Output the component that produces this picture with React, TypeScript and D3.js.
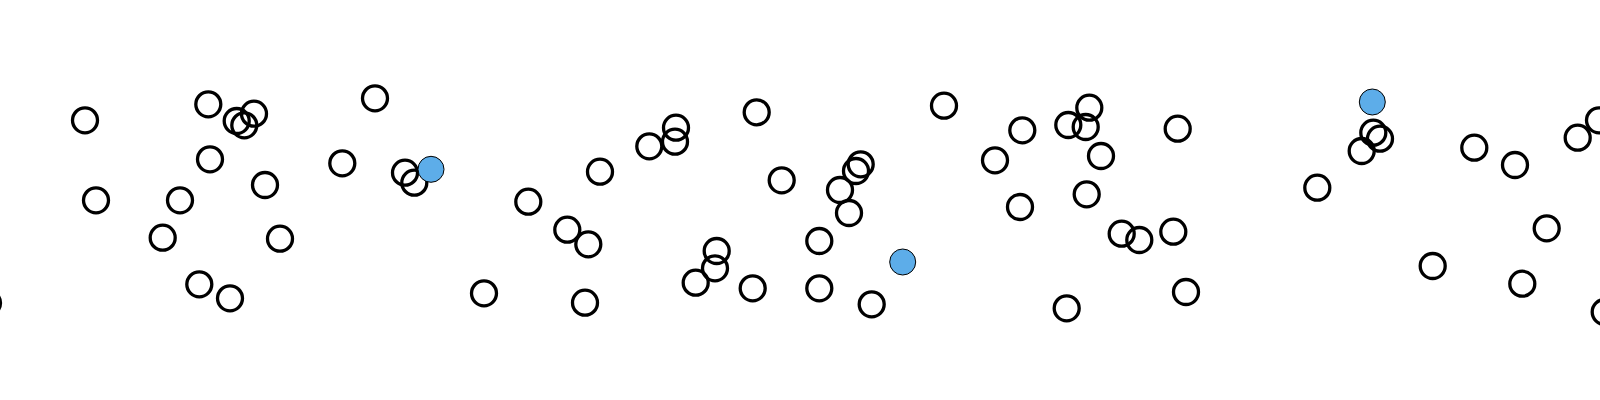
import * as d3 from "d3";

// positions, in page pixels (domain of the scales)
const xs = [
  -12, 85, 96, 208.3, 236.7, 254, 244.3, 210, 180, 265, 162.7, 280, 199.3, 230, 375, 342.3, 405, 414.3,
  528.3, 600, 567.3, 588.3, 484, 585, 649.3, 676, 675, 756.7, 781.7, 716.7, 715, 695.7, 752.7,
  944, 860.7, 856, 840, 849, 819.3, 819.3, 871.7, 1022.3, 995, 1068.3, 1089.3, 1085.7, 1177.7, 1101,
  1020, 1086.7, 1121.7, 1139.3, 1173.3, 1186, 1066.7,
  1373.3, 1380, 1361.7, 1317.3, 1474.3, 1515, 1577.7, 1599, 1546.7, 1432.7, 1522.3, 1604.7,
];
const ys = [
  302, 119.3, 199.3, 103.3, 120, 112.7, 124.3, 158.3, 199.3, 184, 236.7, 237.7, 283.3, 297.3, 97.3, 162.3, 171.7, 181.7,
  200.7, 170.7, 228.7, 243.3, 292.3, 301.7, 145.3, 126.7, 140.7, 111.3, 179.3, 250, 267.3, 281.7, 287.3,
  104.7, 163.3, 170, 189, 212, 240, 287.3, 303.3, 129.3, 159.3, 124, 106.7, 126, 127.7, 155,
  206, 193.3, 232.7, 239, 230.7, 291, 307.3,
  131.7, 137.7, 150, 186.7, 146.7, 164, 136.7, 119.3, 227.3, 265, 282.7, 311,
];
// the three highlighted points
const hxs = [431, 902.7, 1372.3];
const hys = [168.3, 261, 101];

const W = 1600;
const H = 400;

export default function App() {
  const x = d3.scaleLinear().domain([0, 1600]).range([0, W]);
  const y = d3.scaleLinear().domain([0, 400]).range([1, H + 1]);

  return (
    <svg width={W} height={H} style={{ position: "fixed", left: 0, top: 0, background: "#fff" }}>
      {xs.map((v, i) => (
        <circle key={`c${i}`} cx={x(v)} cy={y(ys[i])} r={12.5} fill="none" stroke="#000" strokeWidth={3.3} />
      ))}
      {hxs.map((v, i) => (
        <circle key={`h${i}`} cx={x(v)} cy={y(hys[i])} r={13} fill="#5dade9" stroke="#000" strokeWidth={1} />
      ))}
    </svg>
  );
}
